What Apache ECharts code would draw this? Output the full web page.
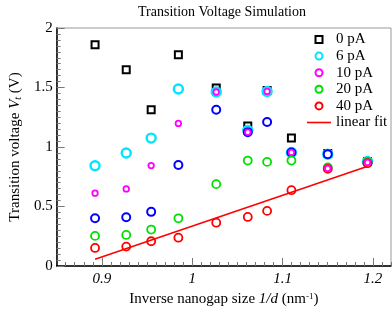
<!DOCTYPE html>
<html><head><meta charset="utf-8">
<script src="https://cdn.jsdelivr.net/npm/echarts@6/dist/echarts.min.js"></script>
<style>html,body{margin:0;padding:0;background:#fff}#c{width:392px;height:318px}</style>
</head><body><div id="c"></div>
<script>
const xVals = [0.8925, 0.927, 0.9546, 0.9847, 1.0266, 1.0615, 1.0829, 1.1098, 1.150, 1.194];
const pA0  = [1.860, 1.650, 1.313, 1.776, 1.496, 1.176, 1.475, 1.075, 0.945, 0.878];
const pA6  = [0.842, 0.949, 1.075, 1.487, 1.462, 1.140, 1.467, 0.954, 0.940, 0.878];
const pA10 = [0.612, 0.648, 0.844, 1.198, 1.462, 1.125, 1.467, 0.954, 0.820, 0.870];
const pA15 = [0.401, 0.410, 0.455, 0.848, 1.313, 1.125, 1.210, 0.954, 0.940, 0.870];
const pA20 = [0.253, 0.261, 0.306, 0.401, 0.688, 0.886, 0.875, 0.886, 0.828, 0.874];
const pA40 = [0.152, 0.163, 0.208, 0.238, 0.364, 0.412, 0.463, 0.637, 0.816, 0.864];
const fitX = [0.8925, 1.1935];
const fitY = [0.056, 0.836];
const xTickVals = [0.9, 1.0, 1.1, 1.2];
const xTickLabels = ['0.9', '1', '1.1', '1.2'];
const yTickLabels = ['0', '0.5', '1', '1.5', '2'];
const legendNames = ['0 pA', '6 pA', '10 pA', '20 pA', '40 pA', 'linear fit'];

const FONT = 'Liberation Serif';
const pairs = (ys) => xVals.map((x, i) => [x, ys[i]]);
const minorX = [];
for (let k = 86; k <= 122; k++) minorX.push(k / 100);

function sc(name, ys, symbol, size, color, bw, z) {
  return {
    name, type: 'scatter', data: pairs(ys), symbol, symbolSize: size, z,
    itemStyle: { color: '#fff', borderColor: color, borderWidth: bw, opacity: 1 },
    emphasis: { disabled: true }
  };
}
const SQUARE = 'path://M0,0H10V10H0Z';

const legendData = legendNames.map((n) => {
  if (n === '0 pA') return { name: n, icon: SQUARE };
  if (n === 'linear fit') return { name: n, icon: 'path://M0,0H24V1.6H0Z', itemStyle: { color: '#ff0000', borderWidth: 0 } };
  return { name: n, icon: 'circle' };
});

const chart = echarts.init(document.getElementById('c'), null, { renderer: 'canvas' });
chart.setOption({
  animation: false,
  backgroundColor: '#fff',
  textStyle: { fontFamily: FONT },
  title: {
    text: 'Transition Voltage Simulation', left: 217, top: 0, textAlign: 'center',
    textStyle: { fontFamily: FONT, fontSize: 14, fontWeight: 'normal', color: '#000' }
  },
  grid: { left: 52, right: 1, top: 28, bottom: 52, show: true, borderColor: '#999', borderWidth: 1, containLabel: false },
  legend: {
    data: legendData, orient: 'vertical', left: 307, top: 32, padding: 0,
    itemWidth: 24, itemHeight: 7, itemGap: 1.6, align: 'left',
    textStyle: { fontFamily: FONT, fontSize: 15, color: '#000' }
  },
  xAxis: [{
    type: 'value', min: 0.85, max: 1.22,
    axisLine: { show: true, lineStyle: { color: '#000', width: 1.5 } },
    axisTick: { show: true, inside: true, length: 8, customValues: xTickVals, lineStyle: { color: '#777' } },
    axisLabel: {
      show: true, customValues: xTickVals, margin: 6,
      formatter: (v) => { const i = xTickVals.findIndex(t => Math.abs(t - v) < 1e-6); return i >= 0 ? xTickLabels[i] : ''; },
      fontFamily: FONT, fontSize: 15, fontStyle: 'italic', color: '#000'
    },
    splitLine: { show: false },
    name: '{a|Inverse nanogap size }{i|1/d}{a| (nm}{s|-1}{a|)}',
    nameLocation: 'middle', nameGap: 24,
    nameTextStyle: {
      rich: {
        a: { fontFamily: FONT, fontSize: 15, color: '#000' },
        i: { fontFamily: FONT, fontSize: 15, fontStyle: 'italic', color: '#000' },
        s: { fontFamily: FONT, fontSize: 9, color: '#000', verticalAlign: 'top' }
      }
    }
  }, {
    type: 'value', min: 0.85, max: 1.22, position: 'bottom',
    axisLine: { show: false },
    axisTick: { show: true, inside: true, length: 4, customValues: minorX, lineStyle: { color: '#777' } },
    axisLabel: { show: false },
    splitLine: { show: false }
  }],
  yAxis: {
    type: 'value', min: 0, max: 2, interval: 0.5,
    axisLine: { show: true, lineStyle: { color: '#000', width: 1.5 } },
    axisTick: { show: true, inside: true, length: 8, lineStyle: { color: '#777' } },
    minorTick: { show: true, splitNumber: 10, length: 4, lineStyle: { color: '#777' } },
    axisLabel: {
      formatter: (v) => yTickLabels[Math.round(v / 0.5)],
      fontFamily: FONT, fontSize: 15, color: '#000', margin: 4
    },
    splitLine: { show: false },
    name: '{a|Transition voltage }{i|V}{s|t}{a| (V)}',
    nameLocation: 'middle', nameGap: 30, nameRotate: 90,
    nameTextStyle: {
      rich: {
        a: { fontFamily: FONT, fontSize: 15, color: '#000' },
        i: { fontFamily: FONT, fontSize: 15, fontStyle: 'italic', color: '#000' },
        s: { fontFamily: FONT, fontSize: 10, fontStyle: 'italic', color: '#000', verticalAlign: 'bottom' }
      }
    }
  },
  series: [
    sc('0 pA', pA0, SQUARE, 7, '#000', 2, 2),
    sc('6 pA', pA6, 'circle', 9, '#00e5ff', 2.4, 3),
    sc('15 pA', pA15, 'circle', 8, '#0000ff', 2, 4),
    sc('20 pA', pA20, 'circle', 8, '#00e000', 1.8, 5),
    sc('40 pA', pA40, 'circle', 8, '#ff0000', 1.8, 6),
    sc('10 pA', pA10, 'circle', 5.5, '#ff00ff', 1.8, 7),
    {
      name: 'linear fit', type: 'line', data: fitX.map((x, i) => [x, fitY[i]]),
      symbol: 'none', lineStyle: { color: '#ff0000', width: 1.6 }, itemStyle: { color: '#ff0000' }, z: 8
    }
  ]
});
</script>
</body></html>
